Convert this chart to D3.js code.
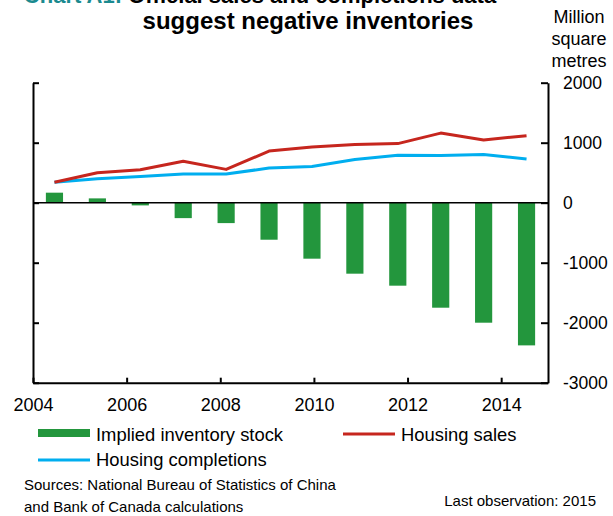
<!DOCTYPE html>
<html><head><meta charset="utf-8">
<script src="https://cdn.jsdelivr.net/npm/d3@7"></script>
<style>body{margin:0;background:#fff}svg{display:block}text{font-family:Arial,"Liberation Sans",sans-serif}</style>
</head><body>
<script>
const years = [2004,2005,2006,2007,2008,2009,2010,2011,2012,2013,2014,2015];
const inventory = [167, 72, -45, -257, -340, -617, -933, -1183, -1383, -1750, -2000, -2378];
const sales = [340, 500, 550, 690, 555, 860, 930, 970, 985, 1160, 1045, 1117];
const completions = [340, 400, 438, 477, 478, 577, 605, 720, 790, 785, 805, 730];
const xTicks = [2004, 2006, 2008, 2010, 2012, 2014];
const yTicks = [-3000, -2000, -1000, 0, 1000, 2000];

const W = 613, H = 516;
const L = 33, R = 548, T = 82.7, B = 382.7;
const svg = d3.select("body").append("svg").attr("width", W).attr("height", H);
svg.append("rect").attr("width", W).attr("height", H).attr("fill", "#fff");

const x = d3.scaleLinear().domain([2004, 2015]).range([L, R]);
const xb = d3.scaleBand().domain(years).range([L, R]).paddingInner(0.6).paddingOuter(0.3);
const y = d3.scaleLinear().domain([-3000, 2000]).range([B, T]);

// bars
svg.append("g").selectAll("rect").data(years).join("rect")
  .attr("x", (d) => xb(d))
  .attr("width", xb.bandwidth())
  .attr("y", (d, i) => y(Math.max(0, inventory[i])))
  .attr("height", (d, i) => Math.abs(y(inventory[i]) - y(0)))
  .attr("fill", "#23963d");

// zero line
svg.append("line").attr("x1", L).attr("x2", R).attr("y1", y(0)).attr("y2", y(0))
  .attr("stroke", "#000").attr("stroke-width", 1.5);

// lines
const cx = (d) => xb(d) + xb.bandwidth() / 2;
const lineGen = (vals) => d3.line().x((d) => cx(d)).y((d, i) => y(vals[i]))(years);
svg.append("path").attr("d", lineGen(completions)).attr("fill", "none")
  .attr("stroke", "#00aeef").attr("stroke-width", 3).attr("stroke-linejoin", "round");
svg.append("path").attr("d", lineGen(sales)).attr("fill", "none")
  .attr("stroke", "#c6261e").attr("stroke-width", 3).attr("stroke-linejoin", "round");

// axes
const fmt = (d) => String(d);
const styleAxis = (size) => (g) => {
  g.selectAll(".domain").attr("stroke", "#000").attr("stroke-width", 2);
  g.selectAll(".tick line").attr("stroke", "#000").attr("stroke-width", 2);
  g.selectAll("text").attr("font-size", size).attr("fill", "#000")
    .attr("font-family", "Arial, 'Liberation Sans', sans-serif");
};
svg.append("g").attr("transform", `translate(${R},0)`)
  .call(d3.axisRight(y).tickValues(yTicks).tickSize(-7).tickSizeOuter(0).tickPadding(15).tickFormat(fmt))
  .call(styleAxis(17.5));
svg.append("g").attr("transform", `translate(${L},0)`)
  .call(d3.axisLeft(y).tickValues(yTicks).tickSize(-6).tickSizeOuter(0).tickFormat(""))
  .call(styleAxis(18));
svg.append("g").attr("transform", `translate(0,${B})`)
  .call(d3.axisBottom(x).tickValues(xTicks).tickSize(-5).tickSizeOuter(0).tickPadding(16).tickFormat(fmt))
  .call(styleAxis(18));

// title
const title = svg.append("text").attr("x", 260).attr("y", 3).attr("text-anchor", "middle")
  .attr("font-size", 22).attr("font-weight", "bold");
title.append("tspan").attr("fill", "#1b8a8f").text("Chart A1:");
title.append("tspan").attr("fill", "#000").text(" Official sales and completions data");
svg.append("text").attr("x", 308).attr("y", 29).attr("text-anchor", "middle")
  .attr("font-size", 24).attr("font-weight", "bold").attr("fill", "#000")
  .text("suggest negative inventories");

// unit label
["Million", "square", "metres"].forEach((t, i) => {
  svg.append("text").attr("x", 579).attr("y", 23 + i * 22).attr("text-anchor", "middle")
    .attr("font-size", 18).attr("fill", "#000").text(t);
});

// legend
const lg = svg.append("g");
lg.append("rect").attr("x", 38).attr("y", 429).attr("width", 52).attr("height", 8).attr("fill", "#23963d");
lg.append("text").attr("x", 96).attr("y", 441).attr("font-size", 18.4).text("Implied inventory stock");
lg.append("line").attr("x1", 343).attr("x2", 395).attr("y1", 434).attr("y2", 434)
  .attr("stroke", "#c6261e").attr("stroke-width", 3);
lg.append("text").attr("x", 401).attr("y", 441).attr("font-size", 18.4).text("Housing sales");
lg.append("line").attr("x1", 38).attr("x2", 90).attr("y1", 460).attr("y2", 460)
  .attr("stroke", "#00aeef").attr("stroke-width", 3);
lg.append("text").attr("x", 96).attr("y", 466).attr("font-size", 18.4).text("Housing completions");

// notes
svg.append("text").attr("x", 24).attr("y", 490).attr("font-size", 15).text("Sources: National Bureau of Statistics of China");
svg.append("text").attr("x", 24).attr("y", 512).attr("font-size", 15).text("and Bank of Canada calculations");
svg.append("text").attr("x", 596).attr("y", 506).attr("text-anchor", "end").attr("font-size", 15).text("Last observation: 2015");
</script>
</body></html>
